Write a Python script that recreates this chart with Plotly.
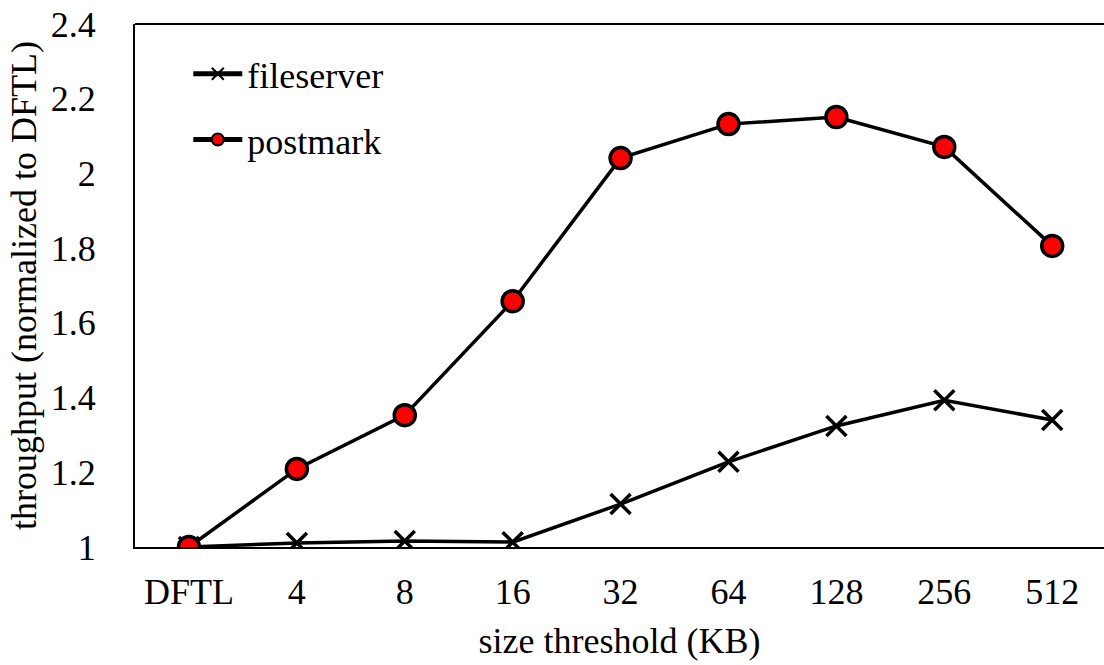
import plotly.graph_objects as go

# Size thresholds and normalized throughput per workload
categories = ["DFTL", "4", "8", "16", "32", "64", "128", "256", "512"]
fileserver = [1.0, 1.011, 1.016, 1.013, 1.115, 1.228, 1.324, 1.393, 1.340]
postmark = [1.0, 1.209, 1.353, 1.658, 2.041, 2.132, 2.151, 2.071, 1.806]
y_ticks = [1, 1.2, 1.4, 1.6, 1.8, 2, 2.2, 2.4]
y_tick_text = ["1", "1.2", "1.4", "1.6", "1.8", "2", "2.2", "2.4"]

FONT = "Liberation Serif, Times New Roman, serif"
FS = 36

fig = go.Figure()
fig.add_trace(go.Scatter(
    x=categories, y=fileserver, name="fileserver", mode="lines+markers",
    legendgroup="fs",
    line=dict(color="black", width=3.5),
    marker=dict(symbol="x-thin", size=20, color="black",
                line=dict(color="black", width=3.5)),
))
fig.add_trace(go.Scatter(
    x=categories, y=postmark, name="postmark", mode="lines+markers",
    legendgroup="pm",
    line=dict(color="black", width=3.5),
    marker=dict(symbol="circle", size=21, color="#ff0000",
                line=dict(color="black", width=3.5)),
))

fig.update_layout(
    width=1104, height=665,
    margin=dict(l=135, r=0, t=24, b=118),
    paper_bgcolor="white", plot_bgcolor="white",
    font=dict(family=FONT, size=FS, color="black"),
    showlegend=True,
    legend=dict(
        x=0.055, y=0.962, xanchor="left", yanchor="top",
        bgcolor="rgba(0,0,0,0)", font=dict(size=FS),
        traceorder="grouped", tracegroupgap=16,
        itemsizing="constant", itemwidth=49,
    ),
    xaxis=dict(
        type="category", range=[-0.5, 8.48],
        showline=True, linecolor="black", linewidth=2,
        showgrid=False, zeroline=False, ticks="",
        tickfont=dict(size=FS), ticklabelstandoff=12,
        title=dict(text="size threshold (KB)", font=dict(size=FS), standoff=17),
    ),
    yaxis=dict(
        range=[1, 2.4], tickvals=y_ticks, ticktext=y_tick_text,
        showline=True, linecolor="black", linewidth=2,
        showgrid=False, zeroline=False, ticks="",
        tickfont=dict(size=FS), ticklabelstandoff=30,
        title=dict(text="throughput (normalized to DFTL)", font=dict(size=FS), standoff=3),
    ),
    shapes=[dict(type="line", xref="paper", yref="paper", x0=0, x1=1, y0=1, y1=1,
                 line=dict(color="black", width=2))],
)

fig.write_html("out.html")
